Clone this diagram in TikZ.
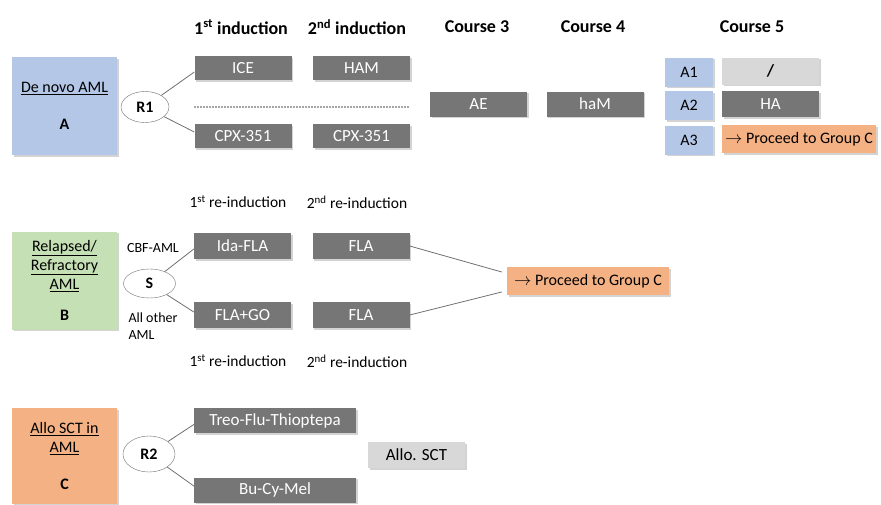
\documentclass[tikz,border=0pt]{standalone}
\usepackage{fontspec}
\setmainfont{Carlito}
\usepackage{tikz}
\usetikzlibrary{shapes.geometric,shadows}

\definecolor{drugGray}{RGB}{118,118,118}
\definecolor{lightGray}{RGB}{216,216,216}
\definecolor{groupBlue}{RGB}{180,199,231}
\definecolor{groupGreen}{RGB}{197,224,180}
\definecolor{groupOrange}{RGB}{244,177,131}
\definecolor{lineGray}{RGB}{112,112,112}

\tikzset{
    shade/.style={drop shadow={opacity=0.35, shadow xshift=1.5pt, shadow yshift=-1.5pt}},
    group/.style={rectangle, shade, minimum width=105pt, minimum height=98pt, align=center, inner sep=0pt, font=\fontsize{16}{19}\selectfont},
    drug/.style={rectangle, shade, fill=drugGray, text=white, minimum width=97pt, minimum height=24pt, inner sep=0pt},
    light/.style={rectangle, shade, fill=lightGray, minimum width=97pt, minimum height=26pt, inner sep=0pt},
    arm/.style={rectangle, shade, fill=groupBlue, minimum width=48pt, minimum height=29pt, inner sep=0pt, font=\fontsize{16}{19}\selectfont},
    proceed/.style={rectangle, shade, fill=groupOrange, minimum height=28pt, inner sep=0pt, font=\fontsize{16}{19}\selectfont},
    rand/.style={ellipse, draw=lineGray, fill=white, font=\bfseries\fontsize{16}{19}\selectfont, minimum width=48pt, minimum height=31pt, inner sep=0pt},
    head/.style={font=\bfseries\fontsize{18}{21}\selectfont},
    sub/.style={font=\fontsize{15.5}{18}\selectfont},
    link/.style={draw=lineGray, line width=0.8pt},
}

\begin{document}
\begin{tikzpicture}[x=1pt, y=-1pt, font=\fontsize{17}{20}\selectfont]
    \useasboundingbox (0,0) rectangle (881,504);

    % Headers
    \node[head] (h1) at (241,27) {1\textsuperscript{st} induction};
    \node[head] (h2) at (357,27) {2\textsuperscript{nd} induction};
    \node[head] (h3) at (477,27) {Course 3};
    \node[head] (h4) at (593,27) {Course 4};
    \node[head] (h5) at (752,27) {Course 5};

    % Group A
    \node[group, fill=groupBlue] (ga) at (64.5,106) {\underline{De novo AML}\\[18pt]\textbf{A}};
    \node[rand] (r1) at (145,107) {R1};
    \node[drug] (ice) at (243,68) {ICE};
    \node[drug] (ham) at (361.5,68) {HAM};
    \node[drug] (cpxa) at (243,136) {CPX-351};
    \node[drug] (cpxb) at (361.5,136) {CPX-351};
    \node[drug, minimum height=25pt] (ae) at (478.5,104) {AE};
    \node[drug, minimum height=25pt] (ham2) at (595,104) {haM};
    \node[arm] (a1) at (689,72) {A1};
    \node[arm] (a2) at (689,105.5) {A2};
    \node[arm] (a3) at (689,140) {A3};
    \node[light, minimum height=27pt] (none) at (770.5,71) {\textbf{/}};
    \node[drug, minimum height=26pt] (ha) at (770.5,104) {HA};
    \node[proceed, minimum width=154pt] (goa) at (799,139) {$\rightarrow$ Proceed to Group C};

    % Group B
    \node[sub] (rb1) at (238,202) {1\textsuperscript{st} re-induction};
    \node[sub] (rb2) at (357,202) {2\textsuperscript{nd} re-induction};
    \node[group, fill=groupGreen] (gb) at (64.5,280.5) {\underline{Relapsed/}\\\underline{Refractory}\\\underline{AML}\\[12pt]\textbf{B}};
    \node[sub, font=\fontsize{14}{17}\selectfont] (cbf) at (153,248) {CBF-AML};
    \node[rand, minimum width=52pt, minimum height=29pt] (s) at (149.5,283.5) {S};
    \node[sub, align=left, anchor=west, font=\fontsize{14}{17}\selectfont] (other) at (125,326) {All other\\AML};
    \node[drug, minimum height=26pt] (ida) at (242.5,246) {Ida-FLA};
    \node[drug, minimum height=26pt] (flaa) at (361,246) {FLA};
    \node[drug, minimum height=26pt] (flago) at (242.5,315) {FLA+GO};
    \node[drug, minimum height=26pt] (flab) at (361,315) {FLA};
    \node[proceed, minimum width=162pt] (gob) at (588,281) {$\rightarrow$ Proceed to Group C};
    \node[sub] (rb3) at (238,361) {1\textsuperscript{st} re-induction};
    \node[sub] (rb4) at (357,361) {2\textsuperscript{nd} re-induction};

    % Group C
    \node[group, fill=groupOrange, minimum height=96pt] (gc) at (64.5,456) {\underline{Allo SCT in}\\\underline{AML}\\[18pt]\textbf{C}};
    \node[rand, minimum width=52pt, minimum height=36pt] (r2) at (149,454) {R2};
    \node[drug, minimum width=162pt, minimum height=25pt] (treo) at (275,420.5) {Treo-Flu-Thioptepa};
    \node[drug, minimum width=162pt, minimum height=25pt] (bu) at (275,490) {Bu-Cy-Mel};
    \node[light] (sct) at (416.5,455) {Allo. SCT};

    % Edges
    \draw[gray!70, line width=1.5pt, dash pattern=on 1.5pt off 1.5pt] (ice.south west |- r1) -- (ham.south east |- r1);
    \draw[link] (r1) -- ([yshift=-4pt]ice.west);
    \draw[link] (r1) -- ([yshift=4pt]cpxa.west);
    \draw[link] (s) -- ([yshift=-3pt]ida.west);
    \draw[link] (s) -- ([yshift=3pt]flago.west);
    \draw[link] (r2) -- ([yshift=-4pt]treo.west);
    \draw[link] (r2) -- ([yshift=4pt]bu.west);
    \draw[link] (flaa.east) -- ([xshift=-5pt,yshift=9pt]gob.west);
    \draw[link] (flab.east) -- ([xshift=-5pt,yshift=-11pt]gob.west);
\end{tikzpicture}
\end{document}
